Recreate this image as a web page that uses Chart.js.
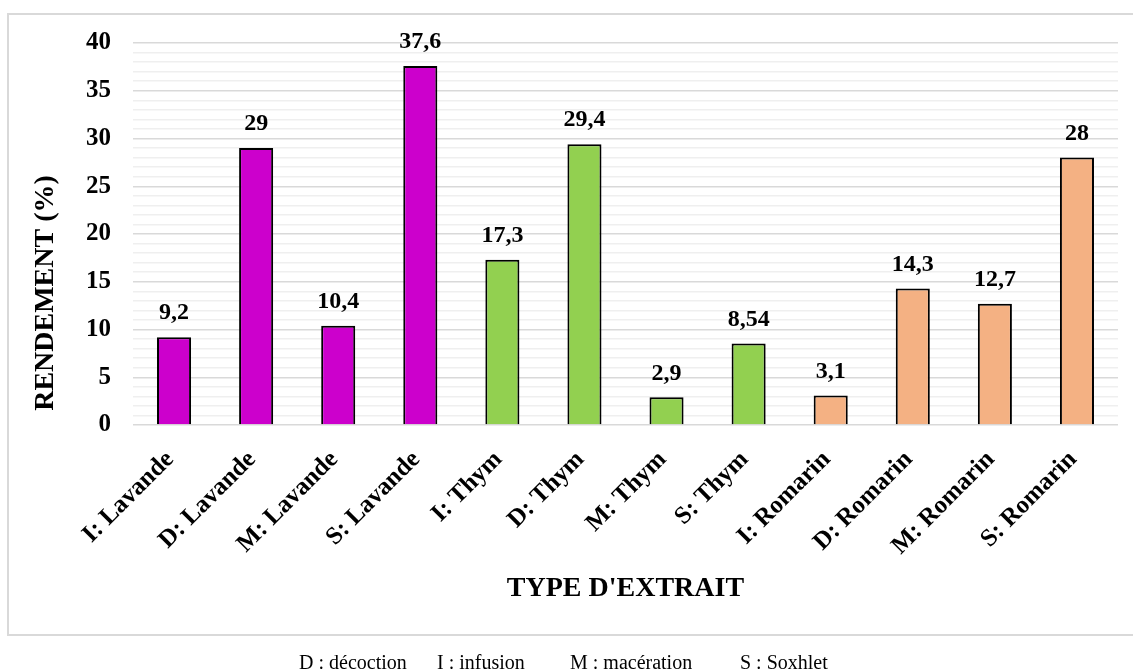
<!DOCTYPE html>
<html lang="fr">
<head>
<meta charset="utf-8">
<title>Rendement des extraits</title>
<script src="https://cdn.jsdelivr.net/npm/chart.js@4.4.1/dist/chart.umd.min.js"></script>
<style>
  html, body { margin: 0; padding: 0; background: #fff; overflow: hidden; }
  #wrap { position: relative; width: 1133px; height: 672px; }
  #frame {
    position: absolute; left: 7px; top: 13px; width: 1200px; height: 623px;
    border: 2px solid #d9d9d9; box-sizing: border-box;
  }
  #chart { position: absolute; left: 0; top: 0; }
  .note {
    position: absolute; top: 651px; font-family: "Liberation Serif", "Times New Roman", serif;
    font-size: 20px; color: #000; white-space: nowrap;
  }
</style>
</head>
<body>
<div id="wrap">
  <div id="frame"></div>
  <canvas id="chart" width="1133" height="672"></canvas>
  <span class="note" style="left:299px">D : décoction</span>
  <span class="note" style="left:437px">I : infusion</span>
  <span class="note" style="left:570px">M : macération</span>
  <span class="note" style="left:740px">S : Soxhlet</span>
</div>
<script>
// Extraction yield (%) by method and plant
const categories = [
  'I: Lavande', 'D: Lavande', 'M: Lavande', 'S: Lavande',
  'I: Thym', 'D: Thym', 'M: Thym', 'S: Thym',
  'I: Romarin', 'D: Romarin', 'M: Romarin', 'S: Romarin'
];
const rendement = [9.2, 29, 10.4, 37.6, 17.3, 29.4, 2.9, 8.54, 3.1, 14.3, 12.7, 28];
const plantes = ['Lavande', 'Lavande', 'Lavande', 'Lavande', 'Thym', 'Thym', 'Thym', 'Thym',
                 'Romarin', 'Romarin', 'Romarin', 'Romarin'];
const yTicks = [0, 5, 10, 15, 20, 25, 30, 35, 40];
const yTitle = 'RENDEMENT (%)';

const plantColors = { Lavande: '#CC00CC', Thym: '#92D050', Romarin: '#F4B183' };
const serif = '"Liberation Serif", "Times New Roman", serif';

// Value labels above each bar, French decimal comma
const valueLabels = {
  id: 'valueLabels',
  afterDatasetsDraw(chart) {
    const { ctx } = chart;
    const meta = chart.getDatasetMeta(0);
    const data = chart.data.datasets[0].data;
    ctx.save();
    ctx.font = 'bold 24px ' + serif;
    ctx.fillStyle = '#000';
    ctx.textAlign = 'center';
    ctx.textBaseline = 'middle';
    meta.data.forEach((bar, i) => {
      const txt = String(data[i]).replace('.', ',');
      ctx.fillText(txt, bar.x, bar.y - 24);
    });
    ctx.restore();
  }
};

// Vertical axis title, set a little below the plot's middle
const sideTitle = {
  id: 'sideTitle',
  afterDraw(chart) {
    const { ctx, chartArea } = chart;
    ctx.save();
    ctx.font = 'bold 28px ' + serif;
    ctx.fillStyle = '#000';
    ctx.textAlign = 'center';
    ctx.textBaseline = 'middle';
    ctx.translate(46, (chartArea.top + chartArea.bottom) / 2 + 59);
    ctx.rotate(-Math.PI / 2);
    ctx.fillText(yTitle, 0, 0);
    ctx.restore();
  }
};

new Chart(document.getElementById('chart'), {
  type: 'bar',
  data: {
    labels: categories,
    datasets: [{
      data: rendement,
      backgroundColor: plantes.map(p => plantColors[p]),
      borderColor: '#000',
      borderWidth: 2,
      barPercentage: 0.415,
      categoryPercentage: 1
    }]
  },
  options: {
    responsive: false,
    animation: false,
    events: [],
    layout: { padding: { left: 0, top: 43, right: 15, bottom: 0 } },
    plugins: { legend: { display: false }, tooltip: { enabled: false } },
    scales: {
      y: {
        min: 0, max: 40,
        afterFit(scale) { scale.width = 133; },
        ticks: {
          stepSize: 1,
          autoSkip: false,
          padding: 22,
          color: '#000',
          font: { family: serif, size: 25, weight: 'bold' },
          callback: v => (yTicks.includes(v) ? String(v) : '')
        },
        grid: {
          drawTicks: false,
          color: c => (c.tick && yTicks.includes(c.tick.value) ? '#d9d9d9' : '#efefef'),
          lineWidth: 1.5
        },
        border: { display: false }
      },
      x: {
        afterFit(scale) { scale.height = 247; },
        grid: { display: false, drawTicks: false },
        border: { display: false },
        ticks: {
          minRotation: 45, maxRotation: 45,
          autoSkip: false,
          padding: 20,
          labelOffset: -4,
          color: '#000',
          font: { family: serif, size: 25, weight: 'bold' }
        },
        title: {
          display: true,
          text: "TYPE D'EXTRAIT",
          color: '#000',
          font: { family: serif, size: 28, weight: 'bold' },
          padding: { top: 0, bottom: 66 }
        }
      }
    }
  },
  plugins: [valueLabels, sideTitle]
});
</script>
</body>
</html>
